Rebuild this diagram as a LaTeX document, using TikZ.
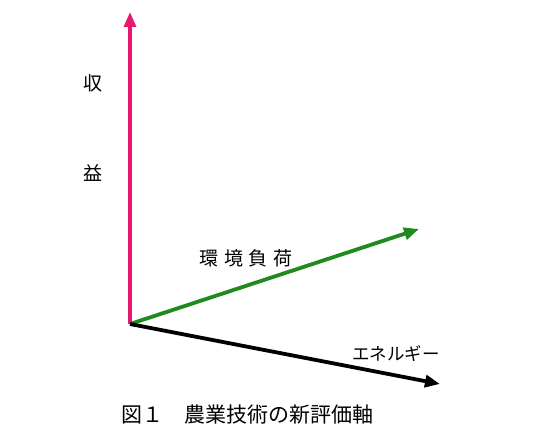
\documentclass[tikz,border=0pt]{standalone}
\usepackage{fontspec}
\newfontfamily\cjk{Noto Sans CJK JP}
\usetikzlibrary{arrows.meta}
\definecolor{axred}{HTML}{E8186E}
\definecolor{axgreen}{HTML}{1F8A1F}
\tikzset{
  axis/.style={line width=3.8pt,-{Triangle[length=15pt,width=12pt]}},
  lbl/.style={font=\cjk\fontsize{19}{21}\selectfont, inner sep=0pt}
}
\begin{document}
\begin{tikzpicture}[x=1pt,y=-1pt]
\useasboundingbox (0,0) rectangle (534,435);
\coordinate (O) at (130,324);
\coordinate (R) at (130,12);
\coordinate (G) at (419,229);
\coordinate (B) at (440,384);
\draw[axis,axred,line width=3.2pt] (O) -- (R);
\draw[axis,axgreen] (O) -- (G);
\draw[axis,black] (O) -- (B);
\node[lbl] (l1) at (93,83) {収};
\node[lbl] (l2) at (93,173) {益};
\node[lbl] (l3) at (246,258) {環\hspace{0.3em}境\hspace{0.3em}負\hspace{0.3em}荷};
\node[lbl,font=\cjk\fontsize{17.5}{19}\selectfont] (l4) at (396,354) {エネルギー};
\node[lbl,font=\cjk\fontsize{21}{23}\selectfont,anchor=west] (cap) at (121,415) {図１\hspace{1em}農業技術の新評価軸};
\end{tikzpicture}
\end{document}
